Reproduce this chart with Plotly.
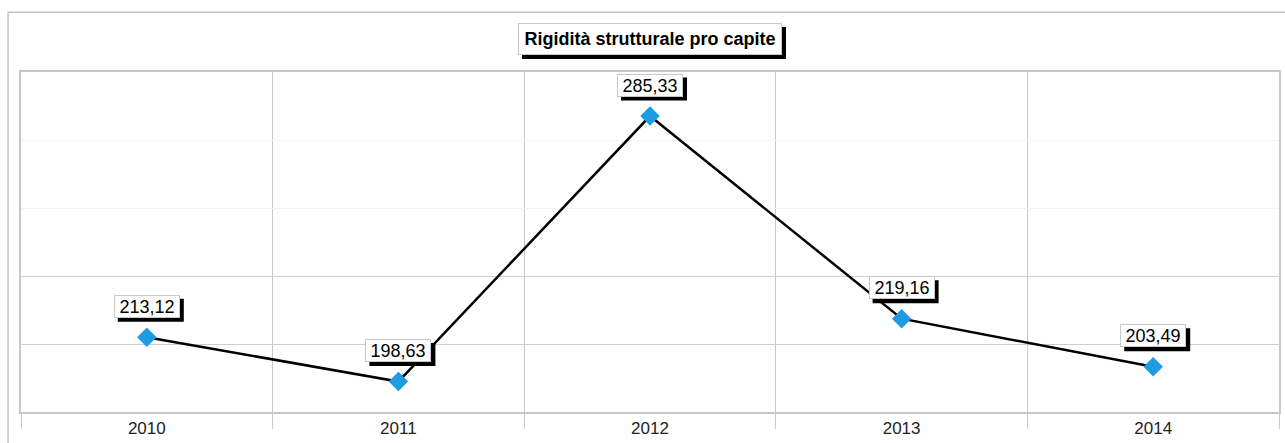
import plotly.graph_objects as go

years = ["2010", "2011", "2012", "2013", "2014"]
values = [213.12, 198.63, 285.33, 219.16, 203.49]
labels = ["213,12", "198,63", "285,33", "219,16", "203,49"]
title_text = "Rigidità strutturale pro capite"

x = list(range(len(years)))
FONT = "Liberation Sans, Arial, sans-serif"

Y0, DY = 188.7, 22.2

# label box geometry (pixels)
LW, LH, LSHIFT, SH = 64, 21, 31, 4
TW, TH, TSHIFT = 256, 24, 17

fig = go.Figure()
fig.add_trace(go.Scatter(
    x=x, y=values, mode="lines+markers",
    line=dict(color="#000000", width=2.5),
    marker=dict(symbol="diamond", size=15, color="#1f9be3"),
    hoverinfo="skip", showlegend=False,
))

annotations = []
shapes = [dict(type="rect", xref="paper", yref="paper",
               x0=-0.0103, y0=-0.3, x1=1.1, y1=1.176,
               line=dict(color="#c4c4c4", width=1.5), layer="below")]

ow, oh = LW + 2, LH + 2
for xi, v, lab in zip(x, values, labels):
    annotations.append(dict(
        x=xi, y=v, xref="x", yref="y", text=lab, showarrow=False,
        yshift=LSHIFT, width=LW, height=LH,
        font=dict(family=FONT, size=18, color="#000000"),
        bgcolor="#ffffff", bordercolor="#c8c8c8", borderwidth=1, borderpad=0,
    ))
    shapes.append(dict(
        type="rect", xref="x", yref="y", xsizemode="pixel", ysizemode="pixel",
        xanchor=xi, yanchor=v,
        x0=-ow / 2 + SH, x1=ow / 2 + SH,
        y0=LSHIFT - oh / 2 - SH, y1=LSHIFT + oh / 2 - SH,
        fillcolor="#000000", line=dict(width=0), layer="above",
    ))

tow, toh = TW + 8, TH + 8
annotations.append(dict(
    x=0.5, y=1.0, xref="paper", yref="paper", text="<b>" + title_text + "</b>",
    showarrow=False, yanchor="bottom", yshift=TSHIFT, width=TW, height=TH,
    font=dict(family=FONT, size=18, color="#000000"),
    bgcolor="#ffffff", bordercolor="#c8c8c8", borderwidth=1, borderpad=3,
))
shapes.append(dict(
    type="rect", xref="paper", yref="paper", xsizemode="pixel", ysizemode="pixel",
    xanchor=0.5, yanchor=1.0,
    x0=-tow / 2 + SH, x1=tow / 2 + SH,
    y0=TSHIFT - SH, y1=TSHIFT + toh - SH,
    fillcolor="#000000", line=dict(width=0), layer="above",
))

fig.update_layout(
    width=1285, height=443,
    margin=dict(l=21, r=4, t=72, b=31),
    paper_bgcolor="#ffffff", plot_bgcolor="#ffffff",
    annotations=annotations,
    shapes=shapes,
    xaxis=dict(
        range=[-0.5, 4.5], tickvals=x, ticktext=years,
        showgrid=False, zeroline=False,
        showline=True, linecolor="#c8c8c8", linewidth=1.5, mirror=True,
        ticks="", tickfont=dict(family=FONT, size=17, color="#222222"),
        minor=dict(tickvals=[i - 0.5 for i in range(len(years) + 1)],
                   showgrid=True, gridcolor="#c8c8c8", gridwidth=1,
                   ticks="outside", ticklen=15, tickcolor="#c8c8c8", tickwidth=1),
    ),
    yaxis=dict(
        range=[Y0, Y0 + 5 * DY],
        tickvals=[Y0 + 3 * DY, Y0 + 4 * DY],
        showgrid=True, gridcolor="#f3f3f3", gridwidth=1,
        showticklabels=False, zeroline=False,
        showline=True, linecolor="#c8c8c8", linewidth=1.5, mirror=True,
        ticks="",
        minor=dict(tickvals=[Y0 + DY, Y0 + 2 * DY], showgrid=True,
                   gridcolor="#cccccc", gridwidth=1),
    ),
)

fig.write_html(
    "out.html",
    config={"displayModeBar": False},
    post_script="document.body.style.margin='0';document.body.style.overflow='hidden';",
)
